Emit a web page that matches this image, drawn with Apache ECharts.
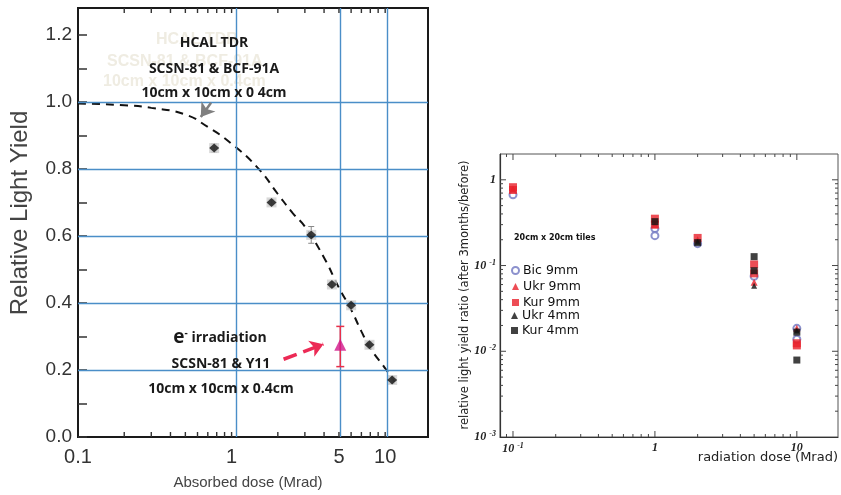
<!DOCTYPE html>
<html>
<head>
<meta charset="utf-8">
<script src="https://cdn.jsdelivr.net/npm/echarts@6/dist/echarts.min.js"></script>
<style>html,body{margin:0;padding:0;background:#fff}#c{width:841px;height:495px}</style>
</head>
<body>
<div id="c"></div>
<script>
// ---- Left panel: relative light yield vs absorbed dose ----
const doseTDR = [0.77, 1.82, 3.3, 4.5, 6.0, 7.9, 11.1];
const yieldTDR = [0.862, 0.700, 0.603, 0.455, 0.393, 0.275, 0.170];
const errTDR = [0.012, 0.008, 0.025, 0.008, 0.010, 0.010, 0.010];
const fitDose = [0.1, 0.2, 0.3, 0.5, 0.7, 1.0, 1.5, 2.0, 2.5, 3.0, 4.0, 5.0, 6.0, 7.0, 8.0, 10, 11.5];
const fitYield = [0.995, 0.99, 0.982, 0.962, 0.925, 0.875, 0.80, 0.725, 0.668, 0.628, 0.535, 0.445, 0.38, 0.315, 0.265, 0.205, 0.165];
const eDose = [5.1];
const eYield = [0.275];
const eLow = [0.21];
const eHigh = [0.33];
const leftYTicks = [0, 0.1, 0.2, 0.3, 0.4, 0.5, 0.6, 0.7, 0.8, 0.9, 1.0, 1.1, 1.2];
const leftYLabels = [0, 0.2, 0.4, 0.6, 0.8, 1.0, 1.2];
const leftXLabels = [0.1, 1, 5, 10];
const leftXTicks = [0.2, 0.3, 0.4, 0.5, 0.6, 0.7, 0.8, 0.9, 1, 2, 3, 4, 5, 6, 7, 8, 9, 10];
const guideY = [0.2, 0.4, 0.6, 0.8, 1.0];
const guideX = [1.07, 5.1, 10.3];

// ---- Right panel: yield ratio after 3 months vs radiation dose ----
const bic9 = [[0.1, 0.67], [1, 0.27], [1, 0.223], [2, 0.18], [5, 0.075], [10, 0.0185], [10, 0.0138]];
const ukr9 = [[0.1, 0.78], [1, 0.30], [2, 0.20], [5, 0.064], [10, 0.0185]];
const kur9 = [[0.1, 0.82], [0.1, 0.76], [1, 0.352], [1, 0.30], [2, 0.21], [5, 0.103], [5, 0.081], [10, 0.0124], [10, 0.0117]];
const ukr4 = [[2, 0.19], [5, 0.058], [10, 0.0175]];
const kur4 = [[1, 0.325], [2, 0.185], [5, 0.127], [5, 0.087], [10, 0.0167], [10, 0.0079]];
const rightXMajor = [0.1, 1, 10];
const rightXMinor = [0.09, 0.2, 0.3, 0.4, 0.5, 0.6, 0.7, 0.8, 0.9, 2, 3, 4, 5, 6, 7, 8, 9];
const rightYMajor = [0.01, 0.1, 1];
const rightYMinor = [0.002, 0.003, 0.004, 0.005, 0.006, 0.007, 0.008, 0.009,
  0.02, 0.03, 0.04, 0.05, 0.06, 0.07, 0.08, 0.09, 0.2, 0.3, 0.4, 0.5, 0.6, 0.7, 0.8, 0.9];

const LEFT = {xMin: 0.1, xMax: 19, yMin: 0, yMax: 1.28};
const RIGHT = {xMin: 0.081, xMax: 19.5, yMin: 0.001, yMax: 2};

const chart = echarts.init(document.getElementById('c'), null, {renderer: 'canvas'});

// inward tick marks along the horizontal edges of a frame
function xTicks(gi, values, b, len, sides, color, width) {
  return {
    type: 'custom', xAxisIndex: gi, yAxisIndex: gi, silent: true, z: 8,
    data: values.map(v => [v, b.yMin]),
    renderItem: function (params, api) {
      const v = api.value(0);
      const pb = api.coord([v, b.yMin]);
      const pt = api.coord([v, b.yMax]);
      const st = {stroke: color, lineWidth: width};
      const ch = [];
      if (sides.bottom) ch.push({type: 'line', shape: {x1: pb[0], y1: pb[1], x2: pb[0], y2: pb[1] - len}, style: st});
      if (sides.top) ch.push({type: 'line', shape: {x1: pt[0], y1: pt[1], x2: pt[0], y2: pt[1] + len}, style: st});
      return {type: 'group', children: ch};
    }
  };
}
// inward tick marks along the vertical edges of a frame
function yTicks(gi, values, b, len, sides, color, width) {
  return {
    type: 'custom', xAxisIndex: gi, yAxisIndex: gi, silent: true, z: 8,
    data: values.map(v => [b.xMin, v]),
    renderItem: function (params, api) {
      const v = api.value(1);
      const pl = api.coord([b.xMin, v]);
      const pr = api.coord([b.xMax, v]);
      const st = {stroke: color, lineWidth: width};
      const ch = [];
      if (sides.left) ch.push({type: 'line', shape: {x1: pl[0], y1: pl[1], x2: pl[0] + len, y2: pl[1]}, style: st});
      if (sides.right) ch.push({type: 'line', shape: {x1: pr[0], y1: pr[1], x2: pr[0] - len, y2: pr[1]}, style: st});
      return {type: 'group', children: ch};
    }
  };
}

function errorBarSeries(points, color, cap, width, z) {
  return {
    type: 'custom', xAxisIndex: 0, yAxisIndex: 0, silent: true, z: z,
    data: points,
    renderItem: function (params, api) {
      const lo = api.coord([api.value(0), api.value(1)]);
      const hi = api.coord([api.value(0), api.value(2)]);
      const st = {stroke: color, lineWidth: width};
      return {type: 'group', children: [
        {type: 'line', shape: {x1: lo[0], y1: lo[1], x2: hi[0], y2: hi[1]}, style: st},
        {type: 'line', shape: {x1: lo[0] - cap, y1: lo[1], x2: lo[0] + cap, y2: lo[1]}, style: st},
        {type: 'line', shape: {x1: hi[0] - cap, y1: hi[1], x2: hi[0] + cap, y2: hi[1]}, style: st}
      ]};
    }
  };
}

const tdrPts = doseTDR.map((d, i) => [d, yieldTDR[i]]);
const tdrErr = doseTDR.map((d, i) => [d, yieldTDR[i] - errTDR[i], yieldTDR[i] + errTDR[i]]);
const ePts = eDose.map((d, i) => [d, eYield[i]]);
const eErr = eDose.map((d, i) => [d, eLow[i], eHigh[i]]);
const fitPts = fitDose.map((d, i) => [d, fitYield[i]]);

const blue = '#4a8ec8';
const colBic = '#6f76c0', colRed = '#e8202a', colBlk = '#111';
const supFmt = function (v) {
  const e = Math.round(Math.log10(v));
  if (Math.abs(Math.log10(v) - e) > 1e-6) return '';
  if (e === 0) return '{b|1}';
  if (e === 1) return '{b|10}';
  return '{b|10}{s|' + e + '}';
};
const supRich = {
  b: {fontFamily: 'Liberation Serif', fontStyle: 'italic', fontWeight: 'bold', fontSize: 12, color: '#222'},
  s: {fontFamily: 'Liberation Serif', fontStyle: 'italic', fontWeight: 'bold', fontSize: 8, color: '#222', verticalAlign: 'top', padding: [0, 0, 6, 3]}
};

const option = {
  backgroundColor: '#fff',
  animation: false,
  grid: [
    {left: 78, top: 8, width: 350, height: 429, show: true, borderColor: '#1a1a1a', borderWidth: 2, backgroundColor: 'transparent'},
    {left: 500, top: 154, width: 338, height: 283, show: true, borderColor: '#555', borderWidth: 1, backgroundColor: 'transparent'}
  ],
  xAxis: [
    {gridIndex: 0, type: 'log', logBase: 10, min: LEFT.xMin, max: LEFT.xMax,
      axisLine: {show: true, lineStyle: {color: '#1a1a1a', width: 2}},
      axisTick: {show: false}, splitLine: {show: false}, minorTick: {show: false},
      axisLabel: {customValues: leftXLabels, margin: 10, fontFamily: 'Liberation Sans', fontSize: 20, color: '#333',
        formatter: v => String(v)}},
    {gridIndex: 1, type: 'log', logBase: 10, min: RIGHT.xMin, max: RIGHT.xMax,
      axisLine: {show: true, lineStyle: {color: '#333', width: 1.2}},
      axisTick: {show: false}, splitLine: {show: false},
      axisLabel: {margin: 5, formatter: supFmt, rich: supRich}}
  ],
  yAxis: [
    {gridIndex: 0, type: 'value', min: LEFT.yMin, max: LEFT.yMax,
      axisLine: {show: true, lineStyle: {color: '#1a1a1a', width: 2}},
      axisTick: {show: true, inside: true, length: 9, customValues: leftYTicks, lineStyle: {color: '#333', width: 1.5}},
      splitLine: {show: false},
      axisLabel: {customValues: leftYLabels, margin: 6, fontFamily: 'Liberation Sans', fontSize: 19, color: '#333',
        formatter: v => v.toFixed(1)}},
    {gridIndex: 1, type: 'log', logBase: 10, min: RIGHT.yMin, max: RIGHT.yMax,
      axisLine: {show: true, lineStyle: {color: '#333', width: 1.2}},
      axisTick: {show: false}, splitLine: {show: false},
      axisLabel: {margin: 4, formatter: supFmt, rich: supRich}}
  ],
  legend: [
    {data: ['Bic 9mm', 'Ukr 9mm', 'Kur 9mm'], orient: 'vertical', left: 511, top: 264, padding: 0,
      itemGap: 3, itemWidth: 7, itemHeight: 7, itemStyle: {borderWidth: 1.5},
      textStyle: {fontFamily: 'DejaVu Sans', fontSize: 12.5, lineHeight: 10, color: '#111', padding: [0, 0, 0, -1]}},
    {data: ['Ukr 4mm', 'Kur 4mm'], orient: 'vertical', left: 511, top: 309, padding: 0,
      itemGap: 2, itemWidth: 7, itemHeight: 7,
      textStyle: {fontFamily: 'DejaVu Sans', fontSize: 12.5, lineHeight: 10, color: '#111', padding: [0, 0, 0, -1]}}
  ],
  graphic: [
    // faint print-through of an older annotation
    {type: 'text', x: 156, y: 40, silent: true, style: {text: 'HCAL TDR', font: 'bold 16px "Liberation Sans"', fill: '#efece2', textVerticalAlign: 'middle'}},
    {type: 'text', x: 107, y: 62, silent: true, style: {text: 'SCSN-81 & BCF-91A', font: 'bold 16px "Liberation Sans"', fill: '#efece2', textVerticalAlign: 'middle'}},
    {type: 'text', x: 103, y: 82, silent: true, style: {text: '10cm x 10cm x 0.4cm', font: 'bold 16px "Liberation Sans"', fill: '#efece2', textVerticalAlign: 'middle'}},
    {type: 'text', x: 214, y: 43, z: 10, style: {text: 'HCAL TDR', font: 'bold 14px "Open Sans"', fill: '#1a1a1a', textAlign: 'center', textVerticalAlign: 'middle'}},
    {type: 'text', x: 214, y: 69, z: 10, style: {text: 'SCSN-81 & BCF-91A', font: 'bold 14px "Open Sans"', fill: '#1a1a1a', textAlign: 'center', textVerticalAlign: 'middle'}},
    {type: 'text', x: 214, y: 93, z: 10, style: {text: '10cm x 10cm x 0 4cm', font: 'bold 14px "Open Sans"', fill: '#1a1a1a', textAlign: 'center', textVerticalAlign: 'middle'}},
    {type: 'text', x: 220, y: 338, z: 10, style: {
      text: '{e|e}{m|-}{t| irradiation}', textAlign: 'center', textVerticalAlign: 'middle',
      rich: {
        e: {font: 'bold 19px "Open Sans"', fill: '#1a1a1a'},
        m: {font: 'bold 10px "Open Sans"', fill: '#1a1a1a', verticalAlign: 'top', padding: [0, 0, 10, 0]},
        t: {font: 'bold 14px "Open Sans"', fill: '#1a1a1a'}
      }}},
    {type: 'text', x: 221, y: 364, z: 10, style: {text: 'SCSN-81 & Y11', font: 'bold 14px "Open Sans"', fill: '#1a1a1a', textAlign: 'center', textVerticalAlign: 'middle'}},
    {type: 'text', x: 221, y: 389, z: 10, style: {text: '10cm x 10cm x 0.4cm', font: 'bold 14px "Open Sans"', fill: '#1a1a1a', textAlign: 'center', textVerticalAlign: 'middle'}},
    {type: 'text', x: 20, y: 213, rotation: Math.PI / 2, style: {text: 'Relative Light Yield', font: '24px "Liberation Sans"', fill: '#444', textAlign: 'center', textVerticalAlign: 'middle'}},
    {type: 'text', x: 248, y: 483, style: {text: 'Absorbed dose (Mrad)', font: '15px "Liberation Sans"', fill: '#444', textAlign: 'center', textVerticalAlign: 'middle'}},
    // right panel texts
    {type: 'text', x: 465, y: 295, rotation: Math.PI / 2, style: {text: 'relative light yield ratio (after 3months/before)', font: '11.5px "DejaVu Sans"', fill: '#222', textAlign: 'center', textVerticalAlign: 'middle'}},
    {type: 'text', x: 838, y: 458, style: {text: 'radiation dose (Mrad)', font: '13px "DejaVu Sans"', fill: '#222', textAlign: 'right', textVerticalAlign: 'middle'}},
    {type: 'text', x: 514, y: 238, style: {text: '20cm x 20cm tiles', font: 'bold 8px "DejaVu Sans"', fill: '#111', textVerticalAlign: 'middle'}}
  ],
  series: [
    xTicks(0, leftXTicks, LEFT, 5, {bottom: true, top: true}, '#333', 1.4),
    {
      name: 'guides', type: 'scatter', xAxisIndex: 0, yAxisIndex: 0, data: [], silent: true,
      markLine: {
        silent: true, symbol: 'none', label: {show: false}, animation: false,
        lineStyle: {color: blue, width: 1.4, type: 'solid'},
        data: guideY.map(v => ({yAxis: v})).concat(guideX.map(v => ({xAxis: v})))
      }
    },
    {
      name: 'fit', type: 'line', xAxisIndex: 0, yAxisIndex: 0, data: fitPts, smooth: true,
      symbol: 'none', silent: true, z: 3,
      lineStyle: {color: '#111', width: 2, type: [8, 6]}
    },
    errorBarSeries(tdrErr, '#888', 3, 1, 4),
    {
      name: 'halo', type: 'scatter', xAxisIndex: 0, yAxisIndex: 0, data: tdrPts, symbol: 'rect', symbolSize: 10,
      itemStyle: {color: '#cfcfcf'}, silent: true, z: 4
    },
    {
      name: 'HCAL TDR', type: 'scatter', xAxisIndex: 0, yAxisIndex: 0, data: tdrPts, symbol: 'diamond', symbolSize: [10, 9],
      itemStyle: {color: '#111'}, z: 6
    },
    errorBarSeries(eErr, '#e8304a', 4, 1.5, 6),
    {
      name: 'e- irradiation', type: 'scatter', xAxisIndex: 0, yAxisIndex: 0, data: ePts, symbol: 'triangle', symbolSize: 12,
      itemStyle: {color: '#d2168a'}, z: 7,
      markLine: {
        silent: true, label: {show: false}, animation: false,
        symbol: ['none', 'arrow'], symbolSize: [13, 13],
        data: [
          [{coord: [2.18, 0.232], lineStyle: {color: '#ec2a55', width: 3.5}}, {coord: [3.96, 0.277]}],
          [{coord: [0.735, 0.997], lineStyle: {color: '#808080', width: 2.5}}, {coord: [0.63, 0.955]}]
        ]
      }
    },

    xTicks(1, rightXMajor, RIGHT, 6, {bottom: true, top: true}, '#444', 1),
    xTicks(1, rightXMinor, RIGHT, 3, {bottom: true, top: true}, '#444', 1),
    yTicks(1, rightYMajor, RIGHT, 6, {left: true, right: true}, '#444', 1),
    yTicks(1, rightYMinor, RIGHT, 3, {left: true, right: true}, '#444', 1),
    {name: 'Bic 9mm', type: 'scatter', xAxisIndex: 1, yAxisIndex: 1, data: bic9, symbol: 'emptyCircle', symbolSize: 7,
      itemStyle: {color: colBic, borderColor: colBic, borderWidth: 1.6}, z: 3},
    {name: 'Kur 9mm', type: 'scatter', xAxisIndex: 1, yAxisIndex: 1, data: kur9, symbol: 'rect', symbolSize: 8,
      itemStyle: {color: colRed}, z: 4},
    {name: 'Ukr 9mm', type: 'scatter', xAxisIndex: 1, yAxisIndex: 1, data: ukr9, symbol: 'triangle', symbolSize: 7,
      itemStyle: {color: colRed}, z: 4},
    {name: 'Kur 4mm', type: 'scatter', xAxisIndex: 1, yAxisIndex: 1, data: kur4, symbol: 'rect', symbolSize: 7,
      itemStyle: {color: colBlk}, z: 5},
    {name: 'Ukr 4mm', type: 'scatter', xAxisIndex: 1, yAxisIndex: 1, data: ukr4, symbol: 'triangle', symbolSize: 6,
      itemStyle: {color: colBlk}, z: 5}
  ]
};
chart.setOption(option);
</script>
</body>
</html>
